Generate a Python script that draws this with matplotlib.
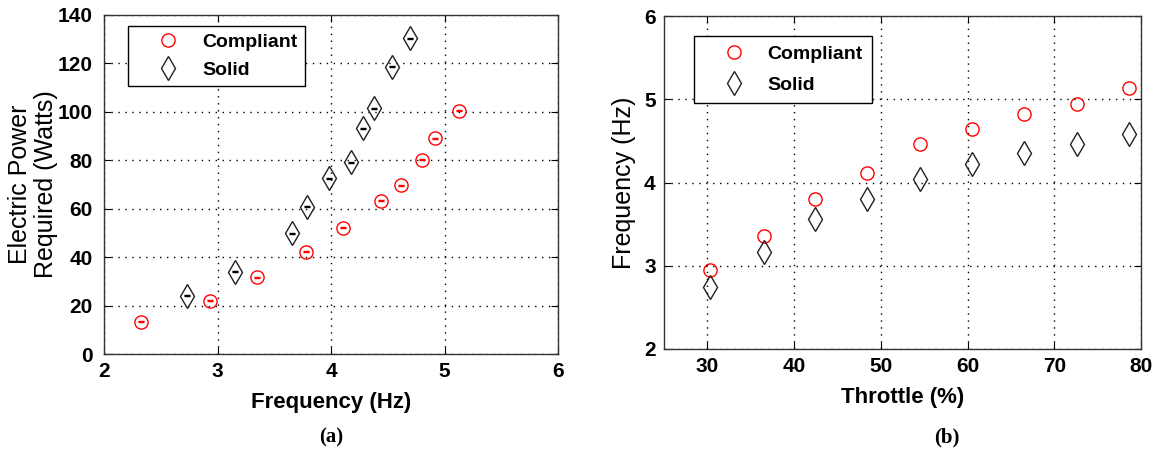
import matplotlib
matplotlib.use('Agg')
import matplotlib.pyplot as plt
from matplotlib.lines import Line2D

# Panel (a): electric power vs frequency
freq_compliant = [2.33, 2.93, 3.35, 3.78, 4.11, 4.44, 4.62, 4.80, 4.92, 5.13]
power_compliant = [13.3, 22.0, 31.7, 42.3, 52.2, 63.2, 69.6, 80.2, 89.0, 100.4]
freq_solid = [2.73, 3.15, 3.66, 3.79, 3.98, 4.18, 4.28, 4.38, 4.54, 4.70]
power_solid = [24.1, 34.0, 49.9, 60.9, 72.6, 79.2, 93.3, 101.5, 118.7, 130.4]
power_err = [0.2] * 10

# Panel (b): frequency vs throttle
throttle = [30.3, 36.5, 42.4, 48.4, 54.5, 60.5, 66.5, 72.6, 78.6]
fq_compliant = [2.95, 3.36, 3.80, 4.12, 4.46, 4.64, 4.82, 4.94, 5.14]
fq_solid = [2.75, 3.16, 3.56, 3.80, 4.04, 4.22, 4.36, 4.46, 4.58]

plt.rcParams['font.family'] = ['Liberation Sans', 'DejaVu Sans']
plt.rcParams['font.weight'] = 'bold'

W, H = 1153, 454
fig = plt.figure(figsize=(W / 100, H / 100), dpi=100)
ax1 = fig.add_axes([104 / W, 1 - 354 / H, 454 / W, 339 / H])
ax2 = fig.add_axes([664 / W, 1 - 349 / H, 477 / W, 333 / H])

circ = dict(marker='o', markersize=9.5, markerfacecolor='none', markeredgecolor='red',
            markeredgewidth=1.0, linestyle='none')
diam = dict(marker='d', markersize=12, markerfacecolor='none', markeredgecolor='#222222',
            markeredgewidth=1.0, linestyle='none')

# (a) - tiny error bars show up as a dash inside each marker
ax1.errorbar(freq_compliant, power_compliant, yerr=power_err, ecolor='red', elinewidth=1.0,
             capsize=2.5, capthick=2.0, **circ)
ax1.errorbar(freq_solid, power_solid, yerr=power_err, ecolor='black', elinewidth=1.0,
             capsize=2.5, capthick=2.0, **diam)
ax1.set_xlim(2, 6)
ax1.set_ylim(0, 140)
ax1.set_xticks([2, 3, 4, 5, 6])
ax1.set_yticks(range(0, 141, 20))
ax1.set_xlabel('Frequency (Hz)', fontsize=16, fontweight='bold', labelpad=8)
ax1.set_ylabel('Electric Power\nRequired (Watts)', fontsize=18, fontweight='normal',
               linespacing=1.1)
ax1.yaxis.set_label_coords(-0.101, 0.5)

# (b)
ax2.plot(throttle, fq_compliant, **circ)
ax2.plot(throttle, fq_solid, **diam)
ax2.set_xlim(25, 80)
ax2.set_ylim(2, 6)
ax2.set_xticks([30, 40, 50, 60, 70, 80])
ax2.set_yticks([2, 3, 4, 5, 6])
ax2.set_xlabel('Throttle (%)', fontsize=16, fontweight='bold', labelpad=8)
ax2.set_ylabel('Frequency (Hz)', fontsize=18, fontweight='normal')
ax2.yaxis.set_label_coords(-0.059, 0.5)

for ax, ypad in ((ax1, 8), (ax2, 6)):
    ax.grid(True, color='black', linestyle=(0, (1, 4)), linewidth=1.0)
    ax.tick_params(direction='in', top=True, right=True, labelsize=15, length=5)
    ax.tick_params(axis='x', pad=6)
    ax.tick_params(axis='y', pad=ypad)
    for sp in ax.spines.values():
        sp.set_linewidth(1.0)
        sp.set_color('#333333')

handles = [Line2D([], [], **circ), Line2D([], [], **diam)]
labels = ['Compliant', 'Solid']

leg1 = ax1.legend(handles, labels, loc='upper left', bbox_to_anchor=(0.053, 0.968),
                  borderaxespad=0, fontsize=14, fancybox=False, edgecolor='black',
                  handlelength=3.3, handletextpad=0.1, borderpad=0.4, labelspacing=0.5,
                  framealpha=1)
leg1.get_frame().set_linewidth(1.0)
leg2 = ax2.legend(handles, labels, loc='upper left', bbox_to_anchor=(0.063, 0.939),
                  borderaxespad=0, fontsize=14, fancybox=False, edgecolor='black',
                  handlelength=3.1, handletextpad=0.2, borderpad=0.48, labelspacing=0.65,
                  framealpha=1)
leg2.get_frame().set_linewidth(1.0)

fig.text(331 / W, 1 - 437 / H, '(a)', ha='center', va='center', fontsize=15,
         family=['Liberation Serif', 'DejaVu Serif'], fontweight='bold')
fig.text(947 / W, 1 - 437 / H, '(b)', ha='center', va='center', fontsize=15,
         family=['Liberation Serif', 'DejaVu Serif'], fontweight='bold')

fig.savefig('out.png', dpi=100)
